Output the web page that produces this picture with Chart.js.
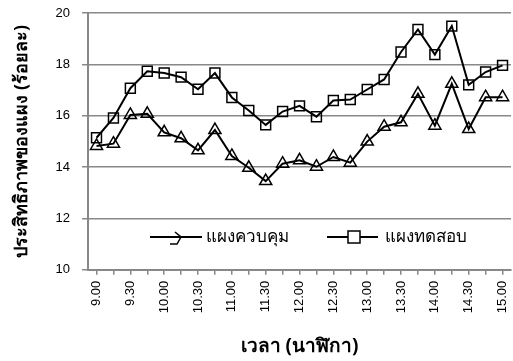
<!DOCTYPE html>
<html>
<head>
<meta charset="utf-8">
<script src="https://cdn.jsdelivr.net/npm/chart.js@4"></script>
<style>
  body { margin: 0; background: #fff; }
  #wrap { width: 513px; height: 361px; }
</style>
</head>
<body>
<div id="wrap"><canvas id="grafico"></canvas></div>
<script>
var tiempos = ['9.00', '9.15', '9.30', '9.45', '10.00', '10.15', '10.30', '10.45', '11.00', '11.15',
  '11.30', '11.45', '12.00', '12.15', '12.30', '12.45', '13.00', '13.15', '13.30', '13.45',
  '14.00', '14.15', '14.30', '14.45', '15.00'];
var panelControl = [14.82, 14.91, 16.03, 16.07, 15.35, 15.12, 14.65, 15.44, 14.43, 13.97,
  13.45, 14.13, 14.26, 14.01, 14.39, 14.17, 14.99, 15.57, 15.74, 16.85,
  15.61, 17.24, 15.48, 16.72, 16.72];
var panelPrueba = [15.14, 15.91, 17.07, 17.73, 17.66, 17.5, 17.03, 17.66, 16.71, 16.2,
  15.64, 16.16, 16.38, 15.96, 16.59, 16.63, 17.02, 17.41, 18.48, 19.36,
  18.38, 19.49, 17.2, 17.7, 17.96];
var nombres = ['แผงควบคุม', 'แผงทดสอบ'];

var fuente = 'Tahoma, "Noto Sans", "DejaVu Sans", sans-serif';
var fuenteNum = 'Arial, "Liberation Sans", sans-serif';

// leyenda dentro del area del grafico
var leyenda = {
  id: 'leyenda',
  afterDraw: function (chart) {
    var c = chart.ctx;
    var y = 237;
    c.save();
    c.strokeStyle = '#000';
    c.lineWidth = 2;
    c.beginPath(); c.moveTo(150, y); c.lineTo(202, y); c.stroke();
    c.beginPath(); c.moveTo(327, y); c.lineTo(378, y); c.stroke();
    // marca del triangulo (asi sale en el original)
    c.lineWidth = 1.5;
    c.beginPath();
    c.moveTo(175, y - 5); c.lineTo(181, y); c.lineTo(177, y + 7); c.lineTo(170, y + 7);
    c.stroke();
    // cuadrado
    c.fillStyle = '#fff';
    c.fillRect(348, y - 6, 12, 12);
    c.strokeRect(348, y - 6, 12, 12);
    c.fillStyle = '#000';
    c.font = '17px ' + fuente;
    c.textBaseline = 'middle';
    c.fillText(nombres[0], 206, y);
    c.fillText(nombres[1], 385, y);
    c.restore();
  }
};

var ctx = document.getElementById('grafico').getContext('2d');
var grafico = new Chart(ctx, {
  type: 'line',
  data: {
    labels: tiempos,
    datasets: [
      {
        label: nombres[0],
        data: panelControl,
        borderColor: '#000',
        borderWidth: 2,
        pointStyle: 'triangle',
        pointRadius: 7,
        pointBorderWidth: 1.5,
        pointBackgroundColor: 'rgba(255,255,255,0)',
        pointBorderColor: '#000',
        tension: 0
      },
      {
        label: nombres[1],
        data: panelPrueba,
        borderColor: '#000',
        borderWidth: 2,
        pointStyle: 'rect',
        pointRadius: 7,
        pointBorderWidth: 1.5,
        pointBackgroundColor: 'rgba(255,255,255,0)',
        pointBorderColor: '#000',
        tension: 0
      }
    ]
  },
  options: {
    responsive: true,
    maintainAspectRatio: false,
    animation: false,
    layout: { autoPadding: false, padding: { top: 13, right: 2, left: 11, bottom: 1 } },
    plugins: {
      legend: { display: false },
      tooltip: { enabled: false }
    },
    scales: {
      x: {
        offset: true,
        afterFit: function (s) { s.paddingLeft = 0; s.paddingRight = 0; },
        grid: { drawOnChartArea: false, drawTicks: true, tickLength: 5, color: '#888', lineWidth: 1.5 },
        border: { color: '#888', width: 2 },
        ticks: {
          autoSkip: false,
          maxRotation: 90,
          minRotation: 90,
          padding: 6,
          color: '#000',
          font: { family: fuenteNum, size: 13 },
          callback: function (v, i) { return i % 2 === 0 ? tiempos[i] : ''; }
        },
        title: {
          display: true,
          text: 'เวลา (นาฬิกา)',
          color: '#000',
          font: { family: fuente, size: 19, weight: 'bold' },
          padding: { top: 16, bottom: 2 }
        }
      },
      y: {
        min: 10,
        max: 20,
        afterFit: function (s) { s.paddingTop = 0; s.paddingBottom = 0; },
        grid: { color: '#888', lineWidth: 1.5, tickLength: 6 },
        border: { color: '#888', width: 2 },
        ticks: {
          stepSize: 2,
          padding: 12,
          color: '#000',
          font: { family: fuenteNum, size: 13 }
        },
        title: {
          display: true,
          text: 'ประสิทธิภาพของแผง (ร้อยละ)',
          color: '#000',
          font: { family: fuente, size: 18, weight: 'bold' },
          padding: { top: 0, bottom: 11 }
        }
      }
    }
  },
  plugins: [leyenda]
});
</script>
</body>
</html>
